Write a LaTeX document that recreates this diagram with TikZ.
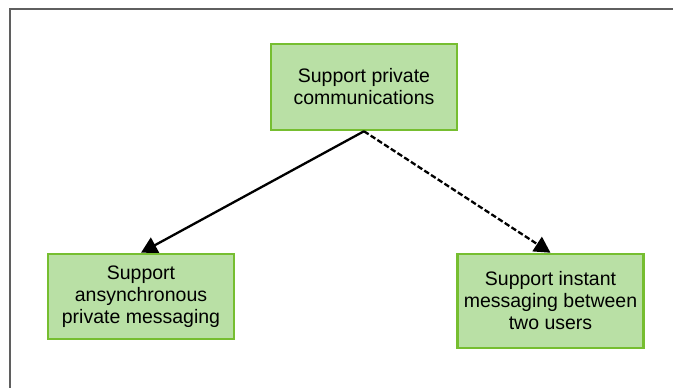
\documentclass[tikz,border=0pt]{standalone}
\usepackage{fontspec}
\setmainfont{Liberation Sans}
\usetikzlibrary{arrows.meta}
\definecolor{boxfill}{RGB}{185,224,165}
\definecolor{boxline}{RGB}{118,190,48}
\definecolor{framegray}{RGB}{95,95,95}
\begin{document}
\begin{tikzpicture}[
  x=1pt, y=-1pt,
  box/.style={rectangle, draw=boxline, fill=boxfill, line width=2.5pt, minimum width=186pt, font=\fontsize{19.5}{22}\selectfont, align=center},
  link/.style={line width=2.3pt, -{Triangle[length=16pt,width=17pt]}}
]
\useasboundingbox (0,0) rectangle (673,388);

% Frame
\draw[framegray, line width=2pt] (10,388) -- (10,9) -- (673,9);

% Goals as boxes
\node[box, minimum height=86pt] (private) at (364,87) {Support private\\communications};
\node[box, minimum height=85pt] (async) at (141,296.5) {Support\\ansynchronous\\private messaging};
\node[box, minimum height=94pt] (instant) at (550.5,301) {Support instant\\messaging between\\two users};

% Arrows
\draw[link] (private.south) -- (async.north);
\draw[link, dashed, dash pattern=on 5.5pt off 2.5pt] (private.south) -- (instant.north);

\end{tikzpicture}
\end{document}
